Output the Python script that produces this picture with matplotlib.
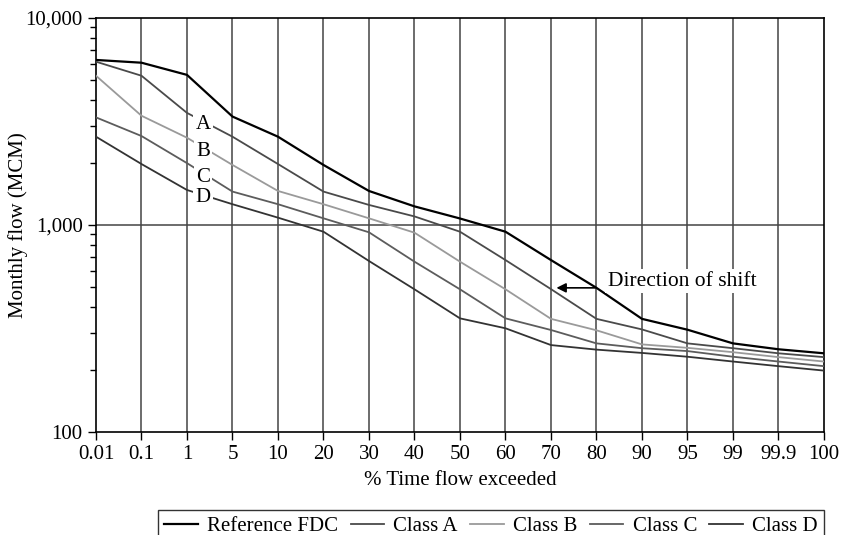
import matplotlib.pyplot as plt
from matplotlib.ticker import LogLocator, NullFormatter
import numpy as np

plt.rcParams['font.family'] = ['Liberation Serif', 'DejaVu Serif']

pct_labels = ['0.01', '0.1', '1', '5', '10', '20', '30', '40', '50', '60',
              '70', '80', '90', '95', '99', '99.9', '100']
ref_fdc = [6270, 6080, 5310, 3340, 2670, 1950, 1460, 1230, 1075, 928,
           677, 497, 352, 312, 268, 251, 240]
class_a = [6150, 5260, 3480, 2670, 1970, 1450, 1250, 1100, 928, 677,
           490, 352, 313, 268, 254, 240, 230]
class_b = [5260, 3370, 2640, 1950, 1460, 1260, 1077, 918, 665, 489,
           352, 310, 265, 255, 243, 230, 219]
class_c = [3310, 2690, 1990, 1450, 1260, 1077, 922, 665, 489, 354,
           311, 268, 254, 246, 231, 219, 208]
class_d = [2670, 1970, 1476, 1260, 1085, 928, 670, 489, 354, 317,
           263, 250, 241, 231, 219, 208, 198]

x = np.arange(len(pct_labels))

fig = plt.figure(figsize=(8.42, 5.35), dpi=100)
ax = fig.add_axes([0.114, 0.1925, 0.8646, 0.7739])

ax.plot(x, ref_fdc, color='black', lw=1.6, label='Reference FDC', zorder=5)
ax.plot(x, class_a, color='#4a4a4a', lw=1.3, label='Class A', zorder=4)
ax.plot(x, class_b, color='#9a9a9a', lw=1.3, label='Class B', zorder=4)
ax.plot(x, class_c, color='#5c5c5c', lw=1.3, label='Class C', zorder=4)
ax.plot(x, class_d, color='#333333', lw=1.3, label='Class D', zorder=4)

ax.set_yscale('log')
ax.set_ylim(100, 10000)
ax.set_xlim(0, len(pct_labels) - 1)
ax.set_yticks([100, 1000, 10000])
ax.set_yticklabels(['100', '1,000', '10,000'])
ax.yaxis.set_minor_locator(LogLocator(base=10, subs=np.arange(2, 10)))
ax.yaxis.set_minor_formatter(NullFormatter())
ax.set_xticks(x)
ax.set_xticklabels(pct_labels)
ax.tick_params(axis='both', which='major', labelsize=15, length=6, width=1, direction='out')
ax.tick_params(axis='y', which='minor', length=4, width=1, direction='out')

# grid: every x position, only the 1,000 line horizontally
for xi in x[1:-1]:
    ax.axvline(xi, color='#444444', lw=1.1, zorder=1)
ax.axhline(1000, color='#444444', lw=1.1, zorder=1)

for s in ax.spines.values():
    s.set_linewidth(1.2)

ax.set_xlabel('% Time flow exceeded', fontsize=15, labelpad=5)
ax.set_ylabel('Monthly flow (MCM)', fontsize=15)
ax.yaxis.set_label_coords(-0.094, 0.5)

# class labels breaking the lines
label_box = dict(facecolor='white', edgecolor='none', pad=1.5)
for name, vals in [('A', class_a), ('B', class_b), ('C', class_c), ('D', class_d)]:
    yv = np.sqrt(vals[2] * vals[3])
    ax.text(2.35, yv, name, fontsize=15, ha='center', va='center',
            bbox=label_box, zorder=6)

ax.text(11.25, 536, 'Direction of shift', fontsize=15.5, ha='left', va='center',
        bbox=dict(facecolor='white', edgecolor='none', pad=2), zorder=6)
ax.annotate('', xy=(10.12, 497), xytext=(10.97, 497),
            arrowprops=dict(arrowstyle='-|>', color='black', lw=1.2,
                            mutation_scale=14, shrinkA=0, shrinkB=0), zorder=7)

leg = fig.legend(loc='upper center', bbox_to_anchor=(491 / 842, 1 - 510 / 535),
                 ncol=5, fontsize=15, frameon=True, fancybox=False,
                 edgecolor='black', handlelength=1.6, handletextpad=0.45,
                 columnspacing=0.6, borderpad=0.3, borderaxespad=0)
leg.get_frame().set_linewidth(1.0)

plt.savefig('out.png', dpi=100)
